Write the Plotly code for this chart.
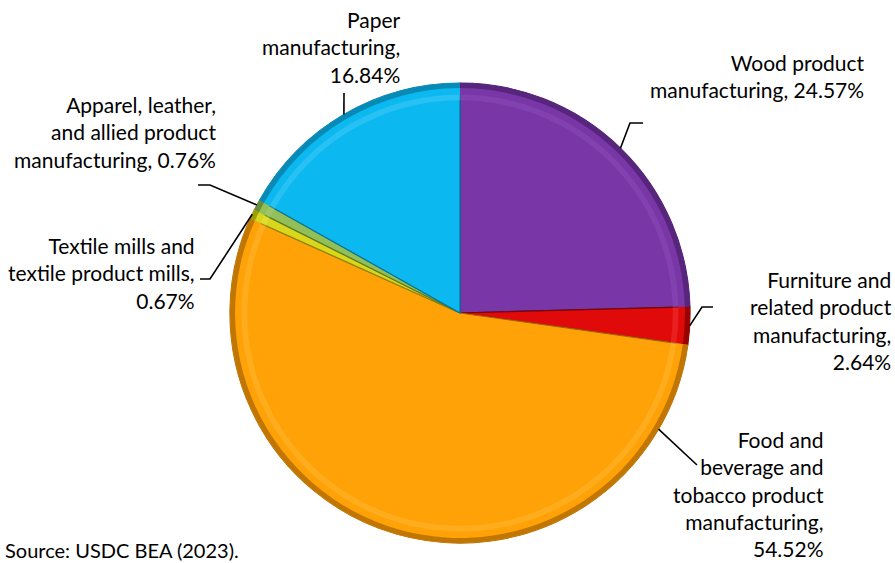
import math
import plotly.graph_objects as go

# Shares of manufacturing output by industry (percent), clockwise from 12 o'clock
industries = [
    "Wood product manufacturing",
    "Furniture and related product manufacturing",
    "Food and beverage and tobacco product manufacturing",
    "Textile mills and textile product mills",
    "Apparel, leather, and allied product manufacturing",
    "Paper manufacturing",
]
shares = [24.57, 2.64, 54.52, 0.67, 0.76, 16.84]

# Label texts as broken onto lines beside the pie
label_lines = [
    ["Wood product", "manufacturing, 24.57%"],
    ["Furniture and", "related product", "manufacturing,", "2.64%"],
    ["Food and", "beverage and", "tobacco product", "manufacturing,", "54.52%"],
    ["Textile mills and", "textile product mills,", "0.67%"],
    ["Apparel, leather,", "and allied product", "manufacturing, 0.76%"],
    ["Paper", "manufacturing,", "16.84%"],
]

base_colors = ["#7836A6", "#E00A0A", "#FFA208", "#D9D61C", "#92BF57", "#0BB8F0"]
light_colors = ["#9458C0", "#FF4A4A", "#FFBF45", "#EEEE60", "#B2D883", "#5CD3FA"]
dark_colors = ["#4A1E6A", "#7A0000", "#A86400", "#8A8800", "#5A7A30", "#06779E"]

W, H = 895, 563
CX, CY, R = 460, 313, 230

def px(x):
    return x / W

def py(y):
    return 1 - y / H

domain = dict(x=[px(CX - R), px(CX + R)], y=[py(CY + R), py(CY - R)])

fig = go.Figure()

common = dict(
    labels=industries, values=shares, sort=False, direction="clockwise",
    rotation=0, domain=domain, textinfo="none", hoverinfo="skip",
    showlegend=False,
)

# Base slices
fig.add_trace(go.Pie(marker=dict(colors=base_colors, line=dict(color=dark_colors, width=1.2)), **common))
# Bevel highlight band near the rim
fig.add_trace(go.Pie(hole=0.925, opacity=0.35, marker=dict(colors=light_colors, line=dict(width=0)), **common))
fig.add_trace(go.Pie(hole=0.95, marker=dict(colors=base_colors, line=dict(width=0)), **common))
# Dark outer rim
fig.add_trace(go.Pie(hole=0.978, opacity=0.7, marker=dict(colors=dark_colors, line=dict(width=0)), **common))

# Cumulative angles of each slice (degrees clockwise from 12 o'clock)
total = sum(shares)
starts, acc = [], 0.0
for v in shares:
    starts.append(acc)
    acc += v
mid_deg = [360 * (s + v / 2) / total for s, v in zip(starts, shares)]
# The food slice's leader attaches on the right side of its arc
attach_deg = list(mid_deg)
attach_deg[2] = 120.3

def rim_point(deg):
    a = math.radians(deg)
    return CX + R * math.sin(a), CY - R * math.cos(a)

# Text block placement: right edge x, vertical center y (pixels)
label_pos = [(867, 76), (894, 320), (826, 494), (197, 273), (218, 132), (403, 47)]
# Leader elbows: list of points from text side toward the rim
leader_elbow = [
    [(643, 123), (630, 123)],
    [(713, 307), (702, 307)],
    [(697, 465)],
    [(200, 279), (210, 279)],
    [(198, 185), (210, 185)],
    [(344, 93)],
]

FONT = "Lato"
FS = 21

for lines, (tx, ty) in zip(label_lines, label_pos):
    fig.add_annotation(
        x=px(tx), y=py(ty), xref="paper", yref="paper",
        text="<br>".join(lines), showarrow=False, xanchor="right", yanchor="middle",
        align="right", font=dict(family=FONT, size=FS, color="#000000"),
    )

for pts, deg in zip(leader_elbow, attach_deg):
    path_pts = pts + [rim_point(deg)]
    d = "M " + " L ".join(f"{px(x)} {py(y)}" for x, y in path_pts)
    fig.add_shape(type="path", path=d, xref="paper", yref="paper",
                  line=dict(color="#000000", width=1.6))

fig.add_annotation(
    x=px(3), y=py(550), xref="paper", yref="paper",
    text="Source: USDC BEA (2023).", showarrow=False, xanchor="left", yanchor="middle",
    font=dict(family=FONT, size=FS - 1, color="#000000"),
)

fig.update_layout(
    width=W, height=H, margin=dict(l=0, r=0, t=0, b=0),
    paper_bgcolor="white", plot_bgcolor="white",
)

fig.write_html("out.html")
